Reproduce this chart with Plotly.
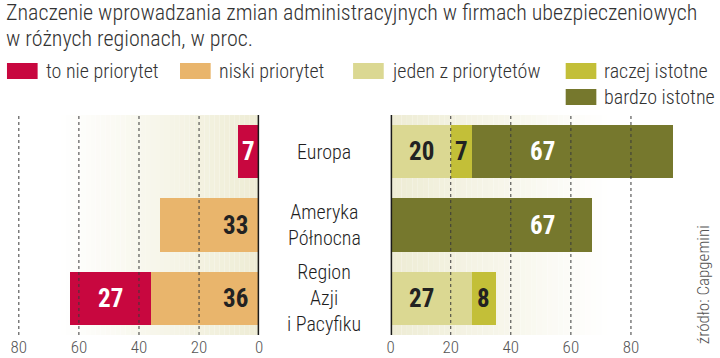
import plotly.graph_objects as go

# ---------------- data ----------------
regions = ["Europa", "Ameryka Północna", "Region Azji i Pacyfiku"]
region_labels = ["Europa", "Ameryka<br>Północna", "Region<br>Azji<br>i Pacyfiku"]

to_nie_priorytet = [7, 0, 27]
niski_priorytet = [0, 33, 36]
jeden_z_priorytetow = [20, 0, 27]
raczej_istotne = [7, 0, 8]
bardzo_istotne = [67, 67, 0]

tick_vals = [0, 20, 40, 60, 80]
tick_text = ["0", "20", "40", "60", "80"]

title_lines = ["Znaczenie wprowadzania zmian administracyjnych w firmach ubezpieczeniowych",
               "w różnych regionach, w proc."]
source_text = "źródło: Capgemini"

legend_names = ["to nie priorytet", "niski priorytet", "jeden z priorytetów", "raczej istotne", "bardzo istotne"]

# ---------------- style ----------------
C_RED = "#C8073F"
C_ORANGE = "#E9B56C"
C_LIGHT = "#DBD892"
C_MID = "#C3BF38"
C_DARK = "#76782D"
C_TEXT = "#222222"
C_GRID = "#3a3a3a"
legend_colors = [C_RED, C_ORANGE, C_LIGHT, C_MID, C_DARK]

FONT = "Roboto Condensed, Open Sans Condensed, Liberation Sans Narrow, Roboto, sans-serif"
W, H = 720, 358

def px_x(p):
    return p / W

def px_y(p):
    return 1 - p / H

LEFT_DOM = [px_x(5), px_x(258)]
RIGHT_DOM = [px_x(391), px_x(705)]
Y_DOM = [px_y(335), px_y(115)]
SCALE = (258 - 15) / 80.0  # px per unit
LEFT_RANGE = [(258 - 5) / SCALE, 0]
RIGHT_RANGE = [0, (705 - 391) / SCALE]

fig = go.Figure()

bar_kw = dict(orientation="h", y=regions, marker_line_width=0, hoverinfo="skip")
fig.add_trace(go.Bar(x=niski_priorytet, marker_color=C_ORANGE, xaxis="x", yaxis="y", name=legend_names[1], **bar_kw))
fig.add_trace(go.Bar(x=to_nie_priorytet, marker_color=C_RED, xaxis="x", yaxis="y", name=legend_names[0], **bar_kw))
fig.add_trace(go.Bar(x=jeden_z_priorytetow, marker_color=C_LIGHT, xaxis="x2", yaxis="y", name=legend_names[2], **bar_kw))
fig.add_trace(go.Bar(x=raczej_istotne, marker_color=C_MID, xaxis="x2", yaxis="y", name=legend_names[3], **bar_kw))
fig.add_trace(go.Bar(x=bardzo_istotne, marker_color=C_DARK, xaxis="x2", yaxis="y", name=legend_names[4], **bar_kw))

shapes = []
annotations = []

# gradient background bands
BEIGE = (238, 236, 212)
def mix(t):
    r = [int(round(255 + (b - 255) * t)) for b in BEIGE]
    return "rgb(%d,%d,%d)" % tuple(r)

N = 40
L_START, R_END = 66.0, 72.0
for i in range(N):
    a0 = L_START * (1 - i / N)
    a1 = L_START * (1 - (i + 1) / N)
    t = (i + 0.5) / N
    shapes.append(dict(type="rect", xref="x", yref="y domain", x0=a0, x1=a1, y0=0, y1=1,
                       fillcolor=mix(t), line_width=0, layer="below"))
    b0 = R_END * i / N
    b1 = R_END * (i + 1) / N
    shapes.append(dict(type="rect", xref="x2", yref="y domain", x0=b0, x1=b1, y0=0, y1=1,
                       fillcolor=mix(1 - t), line_width=0, layer="below"))

# dotted gridlines above bars
for v in tick_vals[1:]:
    for ax in ["x", "x2"]:
        shapes.append(dict(type="line", xref=ax, yref="y domain", x0=v, x1=v, y0=0, y1=1,
                           line=dict(color=C_GRID, width=1, dash="3px,3px"), layer="above"))
# zero axis lines
for ax in ["x", "x2"]:
    shapes.append(dict(type="line", xref=ax, yref="y domain", x0=0, x1=0, y0=0, y1=1,
                       line=dict(color="#1a1a1a", width=3), layer="above"))

# bar value labels
LBL = dict(family=FONT, size=25)
for i, r in enumerate(regions):
    if to_nie_priorytet[i]:
        annotations.append(dict(x=niski_priorytet[i] + to_nie_priorytet[i] / 2, y=r, xref="x", yref="y",
                                text="<b>%d</b>" % to_nie_priorytet[i], showarrow=False,
                                font=dict(LBL, color="white")))
    if niski_priorytet[i]:
        annotations.append(dict(x=3, y=r, xref="x", yref="y", xanchor="right",
                                text="<b>%d</b>" % niski_priorytet[i], showarrow=False,
                                font=dict(LBL, color=C_TEXT)))
    if jeden_z_priorytetow[i]:
        annotations.append(dict(x=5.3, y=r, xref="x2", yref="y", xanchor="left",
                                text="<b>%d</b>" % jeden_z_priorytetow[i], showarrow=False,
                                font=dict(LBL, color=C_TEXT)))
    if raczej_istotne[i]:
        annotations.append(dict(x=jeden_z_priorytetow[i] + raczej_istotne[i] / 2, y=r, xref="x2", yref="y",
                                text="<b>%d</b>" % raczej_istotne[i], showarrow=False,
                                font=dict(LBL, color=C_TEXT)))
    if bardzo_istotne[i]:
        annotations.append(dict(x=50.5, y=r, xref="x2", yref="y",
                                text="<b>%d</b>" % bardzo_istotne[i], showarrow=False,
                                font=dict(LBL, color="white")))
    # category label
    annotations.append(dict(x=px_x(324), y=r, xref="paper", yref="y", text=region_labels[i],
                            showarrow=False, font=dict(family=FONT, size=20, color="#1e1e1e", weight=300),
                            align="center"))

# title
for j, (line, yc) in enumerate(zip(title_lines, [13, 38])):
    annotations.append(dict(x=0, y=px_y(yc), xref="paper", yref="paper", xanchor="left", yanchor="middle",
                            text=line, showarrow=False,
                            font=dict(family=FONT, size=22, color="#333333", weight=300)))

# legend
legend_pos = [(3, 71), (178, 71), (353, 71), (568, 71), (568, 97)]
for name, col, (lx, ly) in zip(legend_names, legend_colors, legend_pos):
    shapes.append(dict(type="rect", xref="paper", yref="paper", x0=px_x(lx), x1=px_x(lx + 31),
                       y0=px_y(ly + 8), y1=px_y(ly - 8), fillcolor=col, line_width=0))
    annotations.append(dict(x=px_x(lx + 37), y=px_y(ly), xref="paper", yref="paper", xanchor="left",
                            yanchor="middle", text=name, showarrow=False,
                            font=dict(family=FONT, size=20, color="#333333", weight=300)))

# source
annotations.append(dict(x=px_x(707), y=px_y(285), xref="paper", yref="paper", text=source_text,
                        xanchor="center", yanchor="middle",
                        textangle=-90, showarrow=False,
                        font=dict(family=FONT, size=17, color="#555555", weight=300)))

axis_common = dict(showgrid=False, zeroline=False, showline=False, ticks="",
                   tickvals=tick_vals, ticktext=tick_text,
                   tickfont=dict(family=FONT, size=17, color="#555555", weight=300), fixedrange=True)

fig.update_layout(
    width=W, height=H,
    margin=dict(l=0, r=0, t=0, b=0),
    paper_bgcolor="white", plot_bgcolor="rgba(0,0,0,0)",
    barmode="stack", bargap=0.275,
    showlegend=False,
    xaxis=dict(domain=LEFT_DOM, range=LEFT_RANGE, anchor="y", **axis_common),
    xaxis2=dict(domain=RIGHT_DOM, range=RIGHT_RANGE, anchor="y", **axis_common),
    yaxis=dict(domain=Y_DOM, range=[2.5, -0.5], showgrid=False, zeroline=False, showticklabels=False,
               ticks="", showline=False, fixedrange=True, categoryorder="array", categoryarray=regions),
    shapes=shapes, annotations=annotations,
)

fig.write_html("out.html", config={"displayModeBar": False},
               post_script="document.body.style.margin='0';document.body.style.padding='0';")
